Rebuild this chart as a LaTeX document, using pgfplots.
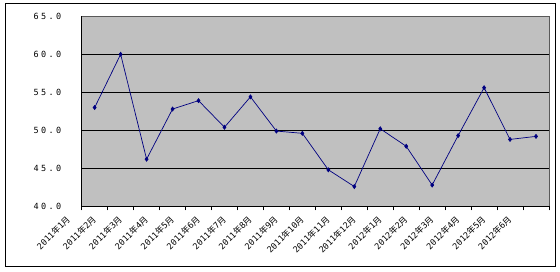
\documentclass[border=0pt]{standalone}
\usepackage{fontspec}
\usepackage{pgfplots}
\pgfplotsset{compat=1.18}
\newfontfamily\cjk{Noto Sans CJK SC}
\newfontfamily\mono[LetterSpace=28]{DejaVu Sans Mono}
\newfontfamily\monox{DejaVu Sans Mono}
\newcommand{\lbl}[2]{{\monox #1}{\cjk 年}{\monox #2}{\cjk 月}}
\definecolor{navy}{RGB}{0,0,128}
\definecolor{plotgray}{RGB}{192,192,192}
\begin{document}
\begin{tikzpicture}[x=1pt,y=1pt]
\useasboundingbox (0,0) rectangle (560,272);
\draw[black, line width=0.8pt] (5,5.5) rectangle (555.5,268.7);
\begin{axis}[
  at={(81.7pt,65.7pt)}, anchor=south west,
  scale only axis, width=467.3pt, height=190pt,
  xmin=-0.5, xmax=17.5, ymin=40, ymax=65,
  axis background/.style={fill=plotgray},
  axis lines=left, axis line style={-, black, line width=0.8pt},
  xtick={-0.5,0.5,...,17.5},
  x tick label as interval,
  xticklabels={\lbl{2011}{1},\lbl{2011}{2},\lbl{2011}{3},\lbl{2011}{4},\lbl{2011}{5},\lbl{2011}{6},\lbl{2011}{7},\lbl{2011}{8},\lbl{2011}{9},\lbl{2011}{10},\lbl{2011}{11},\lbl{2011}{12},\lbl{2012}{1},\lbl{2012}{2},\lbl{2012}{3},\lbl{2012}{4},\lbl{2012}{5},\lbl{2012}{6}},
  xticklabel style={xshift=-29pt, yshift=-3pt, rotate=45, anchor=north east, font=\fontsize{8.5}{9}\selectfont, inner sep=1pt},
  x tick style={black, line width=0.6pt},
  xtick pos=bottom, tick align=outside, major tick length=4pt,
  ytick={40,45,...,65},
  ymajorgrids, grid style={black, line width=0.8pt},
  y tick style={draw=none},
  yticklabel style={font=\mono\fontsize{8.5}{9}\selectfont, xshift=-13pt},
  yticklabel={\pgfmathprintnumber[fixed,fixed zerofill,precision=1]{\tick}},
  /pgf/number format/assume math mode=true,
  clip=false,
]
\draw[gray!70!black, line width=0.6pt] (rel axis cs:0,1) -- (rel axis cs:1,1) -- (rel axis cs:1,0);
\addplot[navy, line width=0.7pt, mark=diamond*, mark size=2pt, mark options={fill=navy, draw=navy}] coordinates {
(0,53.0) (1,60.0) (2,46.2) (3,52.8) (4,53.9) (5,50.4) (6,54.4) (7,49.9) (8,49.6)
(9,44.8) (10,42.6) (11,50.2) (12,47.9) (13,42.8) (14,49.3) (15,55.6) (16,48.8) (17,49.2)
};
\end{axis}
\end{tikzpicture}
\end{document}
